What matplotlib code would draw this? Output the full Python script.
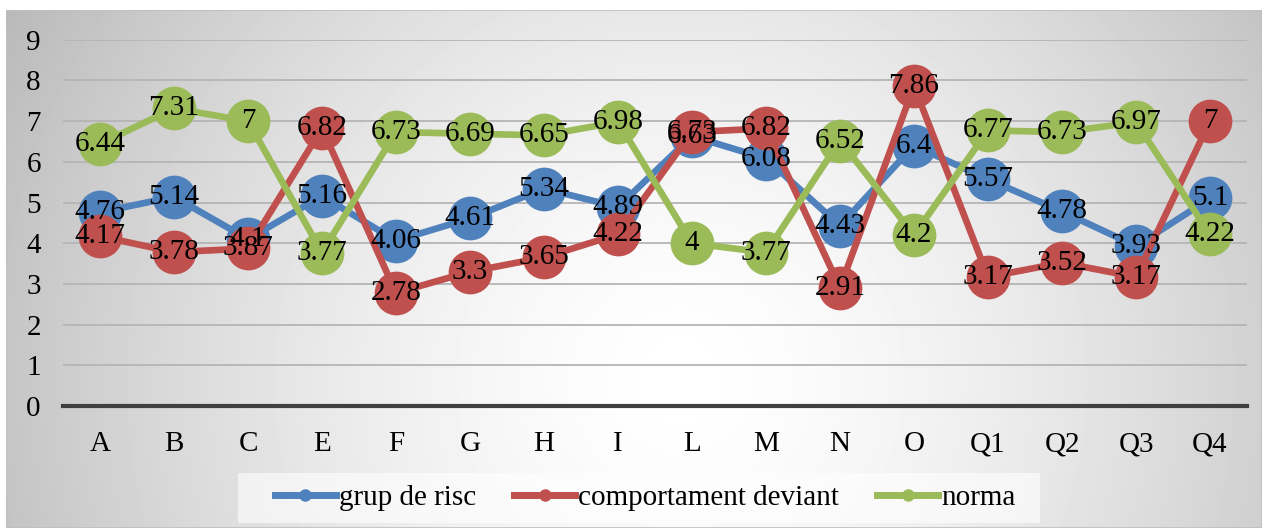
import numpy as np
import matplotlib.pyplot as plt
from matplotlib.lines import Line2D
from matplotlib.patches import Rectangle

plt.rcParams['font.family'] = ['Liberation Serif', 'DejaVu Serif']

categories = ['A', 'B', 'C', 'E', 'F', 'G', 'H', 'I', 'L', 'M', 'N', 'O', 'Q1', 'Q2', 'Q3', 'Q4']
grup_de_risc = [4.76, 5.14, 4.1, 5.16, 4.06, 4.61, 5.34, 4.89, 6.63, 6.08, 4.43, 6.4, 5.57, 4.78, 3.93, 5.1]
comportament_deviant = [4.17, 3.78, 3.87, 6.82, 2.78, 3.3, 3.65, 4.22, 6.73, 6.82, 2.91, 7.86, 3.17, 3.52, 3.17, 7]
norma = [6.44, 7.31, 7, 3.77, 6.73, 6.69, 6.65, 6.98, 4, 3.77, 6.52, 4.2, 6.77, 6.73, 6.97, 4.22]

series = [
    ('grup de risc', grup_de_risc, '#4F81BD'),
    ('comportament deviant', comportament_deviant, '#C0504D'),
    ('norma', norma, '#9BBB59'),
]

W, H = 1269, 530
fig = plt.figure(figsize=(W / 100, H / 100), dpi=100)

# chart area background: radial grey gradient, white in the middle
bx0, by0, bx1, by1 = 6, 10, 1262, 528
bg = fig.add_axes([bx0 / W, 1 - by1 / H, (bx1 - bx0) / W, (by1 - by0) / H])
xx, yy = np.meshgrid(np.arange(bx0, bx1), np.arange(by0, by1))
d = np.hypot(xx - 680, yy - 380)
t = np.clip(d / 760, 0, 1)
v = 1 - 0.27 * t ** 1.5
bg.imshow(v, cmap='gray', vmin=0, vmax=1, aspect='auto', interpolation='bilinear')
bg.set_axis_off()
bg.add_patch(Rectangle((0, 0), 1, 1, transform=bg.transAxes, fill=False,
                       edgecolor='#bfbfbf', linewidth=1.2))

# plot area
px0, px1 = 63, 1247
py_top, py_bot = 39.7, 406
ax = fig.add_axes([px0 / W, 1 - py_bot / H, (px1 - px0) / W, (py_bot - py_top) / H])
ax.set_facecolor('none')
x = np.arange(len(categories))
ax.set_xlim(-0.5, len(categories) - 0.5)
ax.set_ylim(0, 9)
ax.set_yticks(range(0, 10))
ax.set_xticks(x)
ax.set_xticklabels(categories)
ax.tick_params(length=0, labelsize=21)
ax.tick_params(axis='y', pad=16)
ax.tick_params(axis='x', pad=18)
for s in ax.spines.values():
    s.set_visible(False)
for yv in range(1, 10):
    ax.axhline(yv, color='#b5b5b5', linewidth=1.3, zorder=0.5)
ax.axhline(0, color='#404040', linewidth=3, zorder=0.6, clip_on=False)

for i, (name, vals, col) in enumerate(series):
    ax.plot(x, vals, color=col, linewidth=4.8, marker='o', markersize=31.5,
            markeredgewidth=0, zorder=2 + i, clip_on=False)
    for xi, yi in zip(x, vals):
        ax.text(xi, yi, f'{yi:g}', ha='center', va='center', fontsize=21,
                color='black', zorder=10)

# legend box (wider side padding than matplotlib's uniform borderpad)
fig.patches.append(Rectangle((238 / W, 1 - 523 / H), (1040 - 238) / W, 50 / H,
                             transform=fig.transFigure, facecolor='white',
                             alpha=0.6, edgecolor='none', zorder=1))
handles = [Line2D([], [], color=col, linewidth=5, marker='o', markersize=9,
                  markeredgewidth=0) for _, _, col in series]
leg = fig.legend(handles, [s[0] for s in series], loc='center',
                 bbox_to_anchor=(645 / W, 1 - 498 / H), ncol=3, fontsize=21,
                 frameon=False, handlelength=2.1,
                 handletextpad=0.1, columnspacing=1.3)

fig.savefig('out.png', dpi=100)
